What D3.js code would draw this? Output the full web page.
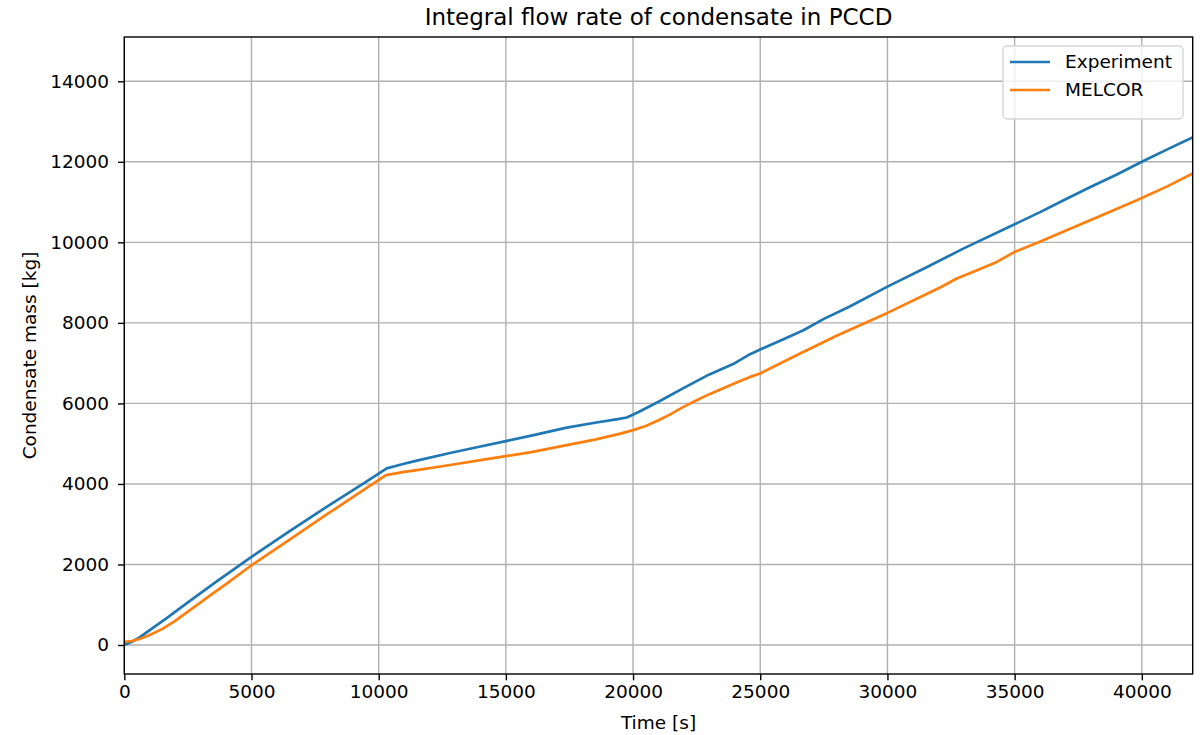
<!DOCTYPE html>
<html>
<head>
<meta charset="utf-8">
<script src="https://cdn.jsdelivr.net/npm/d3@7"></script>
<style>
  body { margin: 0; background: #fff; }
  text { font-family: "DejaVu Sans", sans-serif; fill: #000; }
</style>
</head>
<body>
<svg id="chart" width="1203" height="735"></svg>
<script>
// series
var expTime = [0, 300, 600, 1000, 1667, 2500, 3633, 5000, 6500, 8000, 9500, 10316,
  11000, 11500, 12805, 14000, 15000, 16000, 17393, 18500, 19400, 19752, 20200, 21000,
  21978, 23000, 24000, 24600, 25000, 26000, 26696, 27500, 28500, 30000, 31500, 33000,
  35000, 36000, 36926, 38000, 39000, 40000, 41000, 42000];
var expMass = [0, 80, 190, 370, 670, 1060, 1580, 2190, 2830, 3450, 4050, 4386,
  4500, 4580, 4770, 4930, 5063, 5200, 5400, 5520, 5610, 5651, 5780, 6040,
  6380, 6720, 7000, 7223, 7339, 7620, 7818, 8100, 8400, 8900, 9370, 9850,
  10449, 10750, 11045, 11380, 11680, 12000, 12310, 12609];

var melTime = [0, 300, 600, 1000, 1500, 2000, 2500, 3000, 3500, 4000, 5000, 6500, 8000, 9500, 10290,
  11000, 11500, 12805, 14000, 15000, 16000, 17393, 18500, 19500, 20000, 20500, 21000, 21500, 21978,
  22500, 23000, 24000, 24600, 25000, 26566, 28000, 30000, 32070, 32726, 33500, 34300, 35000,
  35871, 37000, 38500, 39803, 41000, 42000];
var melMass = [80, 100, 150, 250, 400, 600, 830, 1060, 1290, 1510, 1980, 2620, 3260, 3890, 4219,
  4300, 4343, 4470, 4590, 4691, 4790, 4964, 5100, 5250, 5336, 5440, 5580, 5740, 5915,
  6080, 6230, 6500, 6659, 6744, 7240, 7680, 8248, 8878, 9101, 9300, 9514, 9762,
  9985, 10290, 10690, 11045, 11390, 11715];

var seriesNames = ['Experiment', 'MELCOR'];
var seriesColors = ['#1f77b4', '#ff7f0e'];
var xTicks = [0, 5000, 10000, 15000, 20000, 25000, 30000, 35000, 40000];
var yTicks = [0, 2000, 4000, 6000, 8000, 10000, 12000, 14000];

var svg = d3.select('#chart');
var pLeft = 124.3, pRight = 1192.7, pTop = 37, pBottom = 674;

var x = d3.scaleLinear().domain([0, 42000]).range([pLeft, pRight]);
var y = d3.scaleLinear().domain([-720, 15100]).range([pBottom, pTop]);

// grid
svg.append('g').selectAll('line').data(xTicks).enter().append('line')
  .attr('x1', function(d) { return x(d); }).attr('x2', function(d) { return x(d); })
  .attr('y1', pTop).attr('y2', pBottom)
  .attr('stroke', '#b0b0b0').attr('stroke-width', 1.4);
svg.append('g').selectAll('line').data(yTicks).enter().append('line')
  .attr('y1', function(d) { return y(d); }).attr('y2', function(d) { return y(d); })
  .attr('x1', pLeft).attr('x2', pRight)
  .attr('stroke', '#b0b0b0').attr('stroke-width', 1.4);

// lines
var series = [
  { name: seriesNames[0], color: seriesColors[0], t: expTime, m: expMass },
  { name: seriesNames[1], color: seriesColors[1], t: melTime, m: melMass }
];
var line = d3.line()
  .x(function(d) { return x(d[0]); })
  .y(function(d) { return y(d[1]); });

svg.append('clipPath').attr('id', 'plotclip').append('rect')
  .attr('x', pLeft).attr('y', pTop).attr('width', pRight - pLeft).attr('height', pBottom - pTop);

series.forEach(function(s) {
  svg.append('path')
    .datum(d3.zip(s.t, s.m))
    .attr('d', line)
    .attr('fill', 'none')
    .attr('stroke', s.color)
    .attr('stroke-width', 2.7)
    .attr('stroke-linejoin', 'round')
    .attr('stroke-linecap', 'square')
    .attr('clip-path', 'url(#plotclip)');
});

// axes
var xAxis = svg.append('g').attr('transform', 'translate(0,' + pBottom + ')')
  .call(d3.axisBottom(x).tickValues(xTicks).tickSize(6.3).tickPadding(5).tickFormat(d3.format('d')));
var yAxis = svg.append('g').attr('transform', 'translate(' + pLeft + ',0)')
  .call(d3.axisLeft(y).tickValues(yTicks).tickSize(6.3).tickPadding(9).tickFormat(d3.format('d')));
[xAxis, yAxis].forEach(function(a) {
  a.select('.domain').remove();
  a.selectAll('line').attr('stroke', '#000').attr('stroke-width', 1.4);
  a.selectAll('text').attr('font-size', '18.5px').attr('font-family', '"DejaVu Sans", sans-serif').attr('fill', '#000');
});

// frame
svg.append('rect')
  .attr('x', pLeft).attr('y', pTop).attr('width', pRight - pLeft).attr('height', pBottom - pTop)
  .attr('fill', 'none').attr('stroke', '#000').attr('stroke-width', 1.4);

// labels
svg.append('text').attr('x', (pLeft + pRight) / 2).attr('y', 25)
  .attr('text-anchor', 'middle').attr('font-size', '23px')
  .text('Integral flow rate of condensate in PCCD');
svg.append('text').attr('x', (pLeft + pRight) / 2).attr('y', 729)
  .attr('text-anchor', 'middle').attr('font-size', '18.5px')
  .text('Time [s]');
svg.append('text')
  .attr('transform', 'translate(36,' + ((pTop + pBottom) / 2) + ') rotate(-90)')
  .attr('text-anchor', 'middle').attr('font-size', '18.5px')
  .text('Condensate mass [kg]');

// legend
var lg = svg.append('g');
lg.append('rect').attr('x', 1003).attr('y', 46).attr('width', 180).attr('height', 73)
  .attr('rx', 4).attr('fill', '#fff').attr('fill-opacity', 0.8)
  .attr('stroke', '#d6d6d6').attr('stroke-width', 1.4);
series.forEach(function(s, i) {
  var ly = 62 + i * 28;
  lg.append('line').attr('x1', 1010).attr('x2', 1050).attr('y1', ly).attr('y2', ly)
    .attr('stroke', s.color).attr('stroke-width', 2.7);
  lg.append('text').attr('x', 1065).attr('y', ly).attr('dy', '0.35em')
    .attr('font-size', '18.5px').text(s.name);
});
</script>
</body>
</html>
